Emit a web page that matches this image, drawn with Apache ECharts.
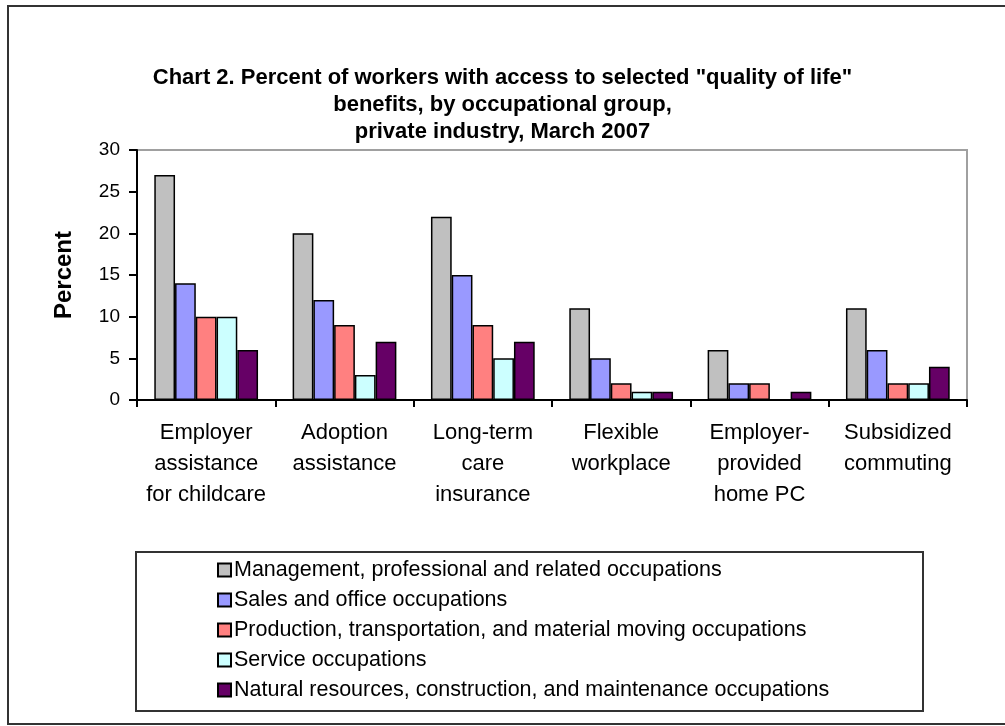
<!DOCTYPE html>
<html>
<head>
<meta charset="utf-8">
<script src="https://cdn.jsdelivr.net/npm/echarts@6/dist/echarts.min.js"></script>
<style>
  html, body { margin: 0; padding: 0; background: #fff; }
  #chart { width: 1005px; height: 726px; }
</style>
</head>
<body>
<div id="chart"></div>
<script>
const categories = [
  'Employer\nassistance\nfor childcare',
  'Adoption\nassistance',
  'Long-term\ncare\ninsurance',
  'Flexible\nworkplace',
  'Employer-\nprovided\nhome PC',
  'Subsidized\ncommuting'
];
const seriesNames = [
  'Management, professional and related occupations',
  'Sales and office occupations',
  'Production, transportation, and material moving occupations',
  'Service occupations',
  'Natural resources, construction, and maintenance occupations'
];
const management = [27, 20, 22, 11, 6, 11];
const salesOffice = [14, 12, 15, 5, 2, 6];
const production = [10, 9, 9, 2, 2, 2];
const service = [10, 3, 5, 1, 0, 2];
const naturalRes = [6, 7, 7, 1, 1, 4];
const yTicks = [0, 5, 10, 15, 20, 25, 30];

const colors = ['#c0c0c0', '#9999ff', '#ff8080', '#ccffff', '#660066'];
const values = [management, salesOffice, production, service, naturalRes];
const font = 'Arial, "Liberation Sans", sans-serif';

const chart = echarts.init(document.getElementById('chart'));
chart.setOption({
  animation: false,
  color: colors,
  title: {
    text: 'Chart 2. Percent of workers with access to selected "quality of life"\nbenefits, by occupational group,\nprivate industry, March 2007',
    left: 'center',
    top: 59,
    textStyle: { fontFamily: font, fontSize: 22, fontWeight: 'bold', lineHeight: 27, color: '#000' }
  },
  graphic: [
    { type: 'rect', shape: { x: 8, y: 6, width: 1010, height: 718 }, style: { fill: 'none', stroke: '#333', lineWidth: 2 }, z: -1 },
    { type: 'rect', shape: { x: 136, y: 552, width: 787, height: 159 }, style: { fill: 'none', stroke: '#333', lineWidth: 2 }, z: -1 }
  ],
  grid: { left: 137, right: 38, top: 150, bottom: 326, show: true, borderColor: '#a0a0a0', borderWidth: 2 },
  legend: {
    orient: 'vertical',
    left: 212,
    top: 554,
    itemWidth: 13,
    itemHeight: 13,
    itemGap: 8,
    icon: 'rect',
    data: seriesNames,
    textStyle: { fontFamily: font, fontSize: 21.5, color: '#000', padding: [0, 0, 0, -2] }
  },
  xAxis: {
    type: 'category',
    data: categories,
    axisLine: { lineStyle: { color: '#000', width: 2 } },
    axisTick: { show: true, length: 7, lineStyle: { color: '#000', width: 2 } },
    axisLabel: { fontFamily: font, fontSize: 22, color: '#000', lineHeight: 31, margin: 17, interval: 0 }
  },
  yAxis: {
    type: 'value',
    min: 0,
    max: yTicks[yTicks.length - 1],
    interval: 5,
    name: 'Percent',
    nameLocation: 'middle',
    nameGap: 61,
    nameTextStyle: { fontFamily: font, fontSize: 24, fontWeight: 'bold', color: '#000' },
    axisLine: { show: true, lineStyle: { color: '#000', width: 2 } },
    axisTick: { show: true, length: 8, lineStyle: { color: '#000', width: 2 } },
    splitLine: { show: false },
    axisLabel: { fontFamily: font, fontSize: 19, color: '#000', margin: 17 }
  },
  series: seriesNames.map((name, i) => ({
    name,
    type: 'bar',
    data: values[i],
    barGap: '0%',
    barCategoryGap: '25%',
    itemStyle: { color: colors[i], borderColor: '#000', borderWidth: 1.5 }
  }))
});
</script>
</body>
</html>
